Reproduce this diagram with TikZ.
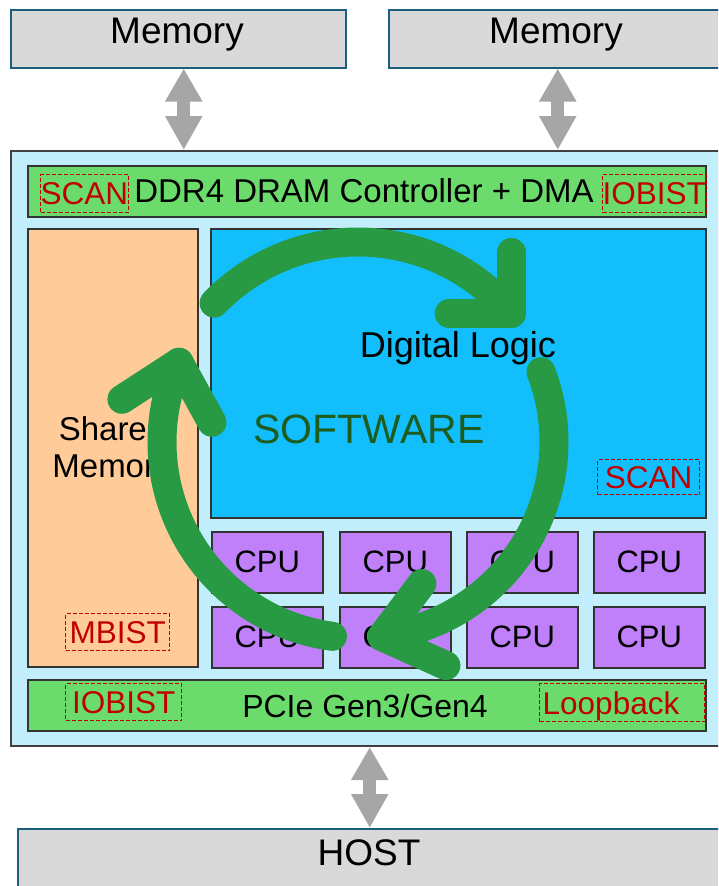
\documentclass[tikz,border=0pt]{standalone}
\usepackage{fontspec}
\setmainfont{Liberation Sans}
\usetikzlibrary{arrows.meta}
\definecolor{memgray}{HTML}{D9D9D9}
\definecolor{memedge}{HTML}{1B5E7E}
\definecolor{chipblue}{HTML}{C2EDFA}
\definecolor{bargreen}{HTML}{6BDC6B}
\definecolor{shmorange}{HTML}{FFCC99}
\definecolor{dlcyan}{HTML}{12BFFC}
\definecolor{cpupurple}{HTML}{C080FA}
\definecolor{scanred}{HTML}{C00000}
\definecolor{swgreen}{HTML}{1F5C1F}
\definecolor{cycgreen}{HTML}{279A43}
\definecolor{arrowgray}{HTML}{A6A6A6}
\begin{document}
\begin{tikzpicture}[x=1pt, y=-1pt,
  box/.style={draw=black!80, line width=1.5pt, anchor=north west, inner sep=0pt},
  txt/.style={anchor=base, inner sep=0pt, font=\fontsize{#1}{#1}\selectfont},
  txt/.default=33,
  redbox/.style={draw=scanred, dash pattern=on 4pt off 2pt, line width=1.4pt, anchor=north west,
    inner sep=0pt, text depth=0pt, text=scanred, font=\fontsize{31.5}{31.5}\selectfont},
  cpubox/.style={box, fill=cpupurple, minimum width=111pt, minimum height=61pt, font=\fontsize{31}{31}\selectfont},
  dbl/.style={draw=arrowgray, line width=13pt, {Triangle[width=35pt,length=33pt]}-{Triangle[width=35pt,length=34pt]}},
  cyc/.style={draw=cycgreen, line width=29pt, line cap=round, line join=round}]
\def\hub{(358,442)}

\useasboundingbox (0,0) rectangle (718,886);
\clip (0,0) rectangle (718,886);

% memories and host
\node[box, draw=memedge, fill=memgray, minimum width=335pt, minimum height=58pt] (memL) at (10,9) {};
\node[box, draw=memedge, fill=memgray, minimum width=338pt, minimum height=58pt] (memR) at (388,9) {};
\node[txt=37] (memLtxt) at (177,43) {Memory};
\node[txt=37] (memRtxt) at (556,43) {Memory};
\node[box, draw=memedge, fill=memgray, minimum width=704pt, minimum height=80pt] (host) at (17,828) {};
\node[txt=37] (hosttxt) at (369,865) {HOST};

% the chip
\node[box, fill=chipblue, draw=black!75, line width=2pt, minimum width=720pt, minimum height=595pt] (chip) at (10,150) {};
\node[box, fill=bargreen, minimum width=678pt, minimum height=51pt] (ddr) at (27,165) {};
\node[txt] (ddrtxt) at (364,202) {DDR4 DRAM Controller + DMA};
\node[redbox, minimum width=84pt, minimum height=38pt] (scanA) at (40,174) {SCAN};
\node[redbox, minimum width=101pt, minimum height=38pt] (iobistA) at (602,174) {IOBIST};

\node[box, fill=shmorange, minimum width=170pt, minimum height=438pt] (shm) at (27,228) {};
\node[txt] (shmtxtA) at (112,440) {Shared};
\node[txt] (shmtxtB) at (112,477) {Memory};
\node[redbox, minimum width=104pt, minimum height=37pt] (mbist) at (65,613) {MBIST};

\node[box, fill=dlcyan, minimum width=495pt, minimum height=289pt] (dl) at (210,228) {};
\node[txt=36] (dltxt) at (458,357) {Digital Logic};
\node[txt=41, text=swgreen] (swtxt) at (369,443) {SOFTWARE};
\node[redbox, minimum width=102pt, minimum height=35pt] (scanB) at (597,459) {SCAN};

\foreach \cx/\n in {211/1,339/2,466/3,593/4}
  \foreach \cy/\m in {531/a,606/b}
    \node[cpubox] (cpu\n\m) at (\cx,\cy) {CPU};

\node[box, fill=bargreen, minimum width=678pt, minimum height=51pt] (pcie) at (27,679) {};
\node[txt=32] (pcietxt) at (365,717) {PCIe Gen3/Gen4};
\node[redbox, minimum width=116pt, minimum height=37pt] (iobistB) at (65,683) {IOBIST};
\node[redbox, minimum height=38pt, text width=159pt, align=left, inner xsep=3pt] (loopbk) at (539,683) {Loopback};

% links
\draw[dbl] ([xshift=5.5pt]memL.south) -- ([xshift=5.5pt]memL.south |- chip.north);
\draw[dbl] (memR.south) -- (memR.south |- chip.north);
\draw[dbl] (chip.south -| host.north) -- (host.north);

% the loop over the die
\draw[cyc] \hub ++(-136:200) arc[start angle=-136, end angle=-40, radius=200] coordinate (tipA);
\draw[cyc] (tipA) ++(0,-61) -- (tipA) -- ++(-62,0);
\draw[cyc] \hub ++(-21:196) arc[start angle=-21, end angle=83, radius=196] coordinate (tipB);
\draw[cyc] (tipB) ++(40,-53) -- (tipB) -- ++(64,29);
\draw[cyc] \hub ++(97.5:196) arc[start angle=97.5, end angle=204, radius=196] coordinate (tipC);
\draw[cyc] (tipC) ++(-57,37) -- (tipC) -- ++(33,60);

\end{tikzpicture}
\end{document}
